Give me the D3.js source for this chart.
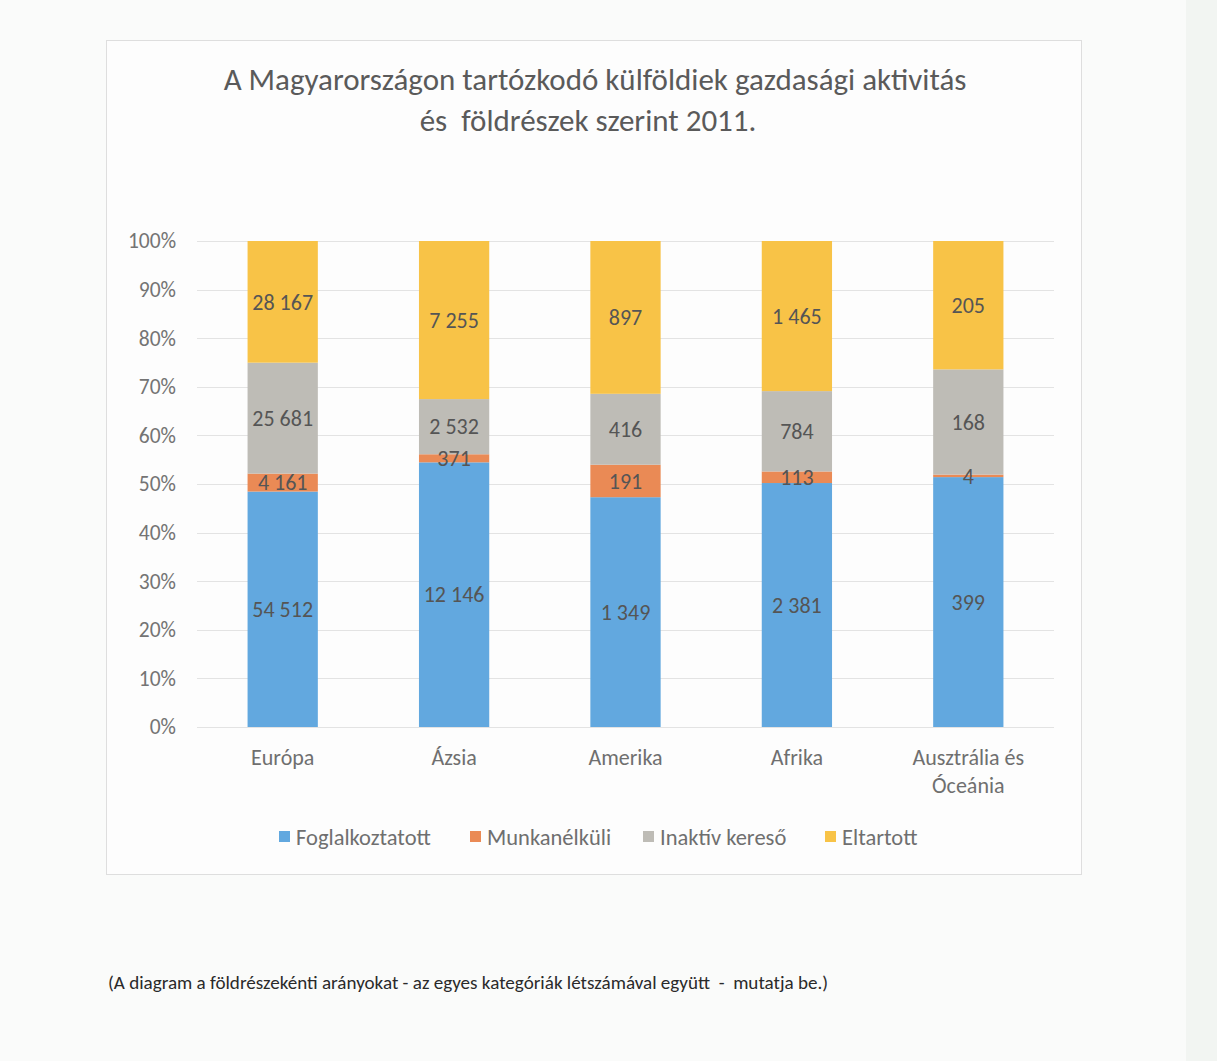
<!DOCTYPE html>
<html>
<head>
<meta charset="utf-8">
<script src="https://cdn.jsdelivr.net/npm/d3@7"></script>
<style>
  body { margin: 0; background: #fafbfa; }
  svg { display: block; }
  text { white-space: pre; }
</style>
</head>
<body>
<div id="chart"></div>
<script>
var width = 1217,
    height = 1061;

// categories and series (head counts per continent)
const continents = ["Európa", "Ázsia", "Amerika", "Afrika", "Ausztrália és Óceánia"];
const seriesNames = ["Foglalkoztatott", "Munkanélküli", "Inaktív kereső", "Eltartott"];
const foglalkoztatott = [54512, 12146, 1349, 2381, 399];
const munkanelkuli = [4161, 371, 191, 113, 4];
const inaktiv = [25681, 2532, 416, 784, 168];
const eltartott = [28167, 7255, 897, 1465, 205];
const yTicks = [0, 0.1, 0.2, 0.3, 0.4, 0.5, 0.6, 0.7, 0.8, 0.9, 1];

const colors = ["#62a8df", "#ea8a55", "#bebcb6", "#f8c347"];
const font = "Carlito, Calibri, 'Liberation Sans', sans-serif";

const rows = continents.map(function (c, i) {
    return {
        name: c,
        "Foglalkoztatott": foglalkoztatott[i],
        "Munkanélküli": munkanelkuli[i],
        "Inaktív kereső": inaktiv[i],
        "Eltartott": eltartott[i]
    };
});

const stack = d3.stack()
    .keys(seriesNames)
    .offset(d3.stackOffsetExpand);
const layers = stack(rows);

var svg = d3.select("#chart")
    .append("svg")
    .attr("width", width)
    .attr("height", height)
    .style("font-family", font);

// page strip on the right (scan edge)
svg.append("rect")
    .attr("x", 1186).attr("y", 0)
    .attr("width", width - 1186).attr("height", height)
    .attr("fill", "#f2f5f2");

// chart frame
svg.append("rect")
    .attr("x", 106.5).attr("y", 40.5)
    .attr("width", 975).attr("height", 834)
    .attr("fill", "#fdfdfd")
    .attr("stroke", "#dedede");

// title
svg.append("text")
    .attr("x", 595).attr("y", 90)
    .attr("text-anchor", "middle")
    .attr("font-size", "31px")
    .attr("fill", "#5a5a5a")
    .text("A Magyarországon tartózkodó külföldiek gazdasági aktivitás");
svg.append("text")
    .attr("x", 588).attr("y", 131)
    .attr("text-anchor", "middle")
    .attr("font-size", "31px")
    .attr("fill", "#5a5a5a")
    .text("és  földrészek szerint 2011.");

var x = d3.scaleBand()
    .domain(continents)
    .range([197, 1054])
    .paddingInner(0.59)
    .paddingOuter(0.295);

var y = d3.scaleLinear()
    .domain([0, 1])
    .range([727, 241]);

// gridlines
svg.append("g")
    .selectAll("line")
    .data(yTicks)
    .join("line")
    .attr("x1", 197).attr("x2", 1054)
    .attr("y1", d => Math.round(y(d)) + 0.5)
    .attr("y2", d => Math.round(y(d)) + 0.5)
    .attr("stroke", "#e3e3e3");

// y axis labels
svg.append("g")
    .attr("transform", "translate(176,0)")
    .call(d3.axisLeft(y).tickValues(yTicks).tickFormat(d3.format(".0%")).tickSize(0).tickPadding(0))
    .call(g => g.select(".domain").remove())
    .selectAll("text")
    .attr("font-family", font)
    .attr("font-size", "21.5px")
    .attr("fill", "#747474");

// bars
svg.append("g")
    .selectAll("g")
    .data(layers)
    .join("g")
    .attr("fill", (d, i) => colors[i])
    .selectAll("rect")
    .data(d => d)
    .join("rect")
    .attr("x", d => x(d.data.name))
    .attr("width", x.bandwidth())
    .attr("y", d => y(d[1]))
    .attr("height", d => y(d[0]) - y(d[1]));

// data labels
const fmt = n => d3.format(",")(n).replace(/,/g, " ");
svg.append("g")
    .selectAll("g")
    .data(layers)
    .join("g")
    .selectAll("text")
    .data(d => d.map(p => ({ p: p, key: d.key })))
    .join("text")
    .attr("x", d => x(d.p.data.name) + x.bandwidth() / 2)
    .attr("y", d => (y(d.p[0]) + y(d.p[1])) / 2)
    .attr("dy", "0.35em")
    .attr("text-anchor", "middle")
    .attr("font-size", "22px")
    .attr("fill", "#555555")
    .text(d => fmt(d.p.data[d.key]));

// x axis labels
const xLabels = svg.append("g")
    .selectAll("text")
    .data(continents)
    .join("text")
    .attr("x", d => x(d) + x.bandwidth() / 2)
    .attr("y", 765)
    .attr("text-anchor", "middle")
    .attr("font-size", "22px")
    .attr("fill", "#6f6f6f");
xLabels.each(function (d) {
    var parts = d === "Ausztrália és Óceánia" ? ["Ausztrália és", "Óceánia"] : [d];
    d3.select(this).selectAll("tspan")
        .data(parts)
        .join("tspan")
        .attr("x", x(d) + x.bandwidth() / 2)
        .attr("dy", (p, i) => i === 0 ? 0 : 28)
        .text(p => p);
});

// legend
const legendX = [279, 470, 643, 825];
const legend = svg.append("g")
    .selectAll("g")
    .data(seriesNames)
    .join("g")
    .attr("transform", (d, i) => "translate(" + legendX[i] + ",831)");
legend.append("rect")
    .attr("width", 11).attr("height", 11)
    .attr("fill", (d, i) => colors[i]);
legend.append("text")
    .attr("x", 17).attr("y", 6)
    .attr("dy", "0.35em")
    .attr("font-size", "22.5px")
    .attr("fill", "#6f6f6f")
    .text(d => d);

// footnote
svg.append("text")
    .attr("x", 108).attr("y", 989)
    .attr("font-size", "17.5px")
    .attr("textLength", 720)
    .attr("lengthAdjust", "spacingAndGlyphs")
    .attr("fill", "#2a2a2a")
    .text("(A diagram a földrészekénti arányokat - az egyes kategóriák létszámával együtt  -  mutatja be.)");
</script>
</body>
</html>
